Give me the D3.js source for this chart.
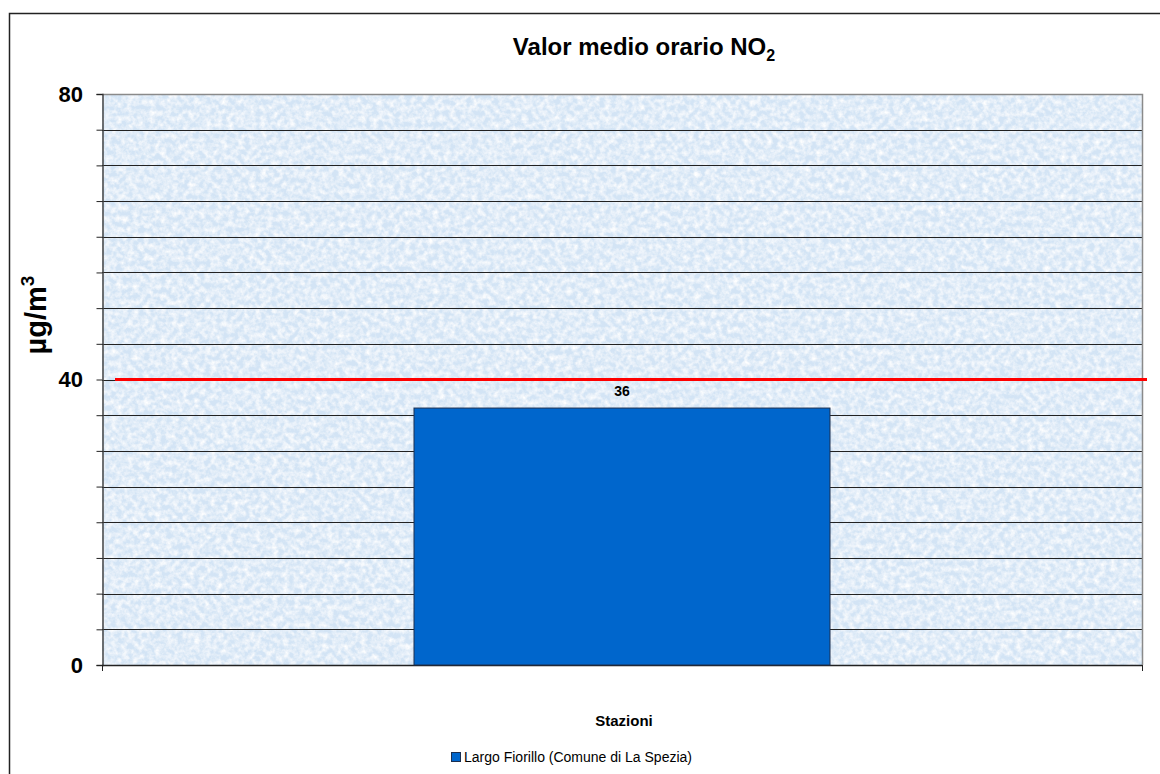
<!DOCTYPE html>
<html>
<head>
<meta charset="utf-8">
<script src="https://cdn.jsdelivr.net/npm/d3@7"></script>
<style>
  body { margin: 0; background: #fff; }
  text { font-family: Arial, "Liberation Sans", sans-serif; fill: #000; }
</style>
</head>
<body>
<div id="chart"></div>
<script>
// data
var stations = ["Largo Fiorillo (Comune di La Spezia)"];
var values = [36];
var limitValue = 40;
var yTickLabels = [0, 40, 80];

var width = 1160,
    height = 774;
var plot = {left: 102, right: 1142, top: 94, bottom: 665};

var svg = d3.select("#chart").append("svg")
    .attr("width", width)
    .attr("height", height);

var x = d3.scaleBand()
    .domain(stations)
    .range([plot.left, plot.right])
    .paddingInner(0)
    .paddingOuter(0.75);

var y = d3.scaleLinear()
    .domain([0, 80])
    .range([plot.bottom, plot.top]);

// texture for plot background
var defs = svg.append("defs");
var f = defs.append("filter").attr("id", "paper")
    .attr("x", 0).attr("y", 0).attr("width", 1).attr("height", 1);
f.append("feTurbulence")
    .attr("type", "fractalNoise")
    .attr("baseFrequency", 0.18)
    .attr("numOctaves", 3)
    .attr("seed", 7)
    .attr("result", "noise");
f.append("feColorMatrix")
    .attr("in", "noise")
    .attr("type", "matrix")
    .attr("values", "0 0 0 0 1  0 0 0 0 1  0 0 0 0 1  1.8 0 0 0 -0.6")
    .attr("result", "speck");
f.append("feComposite")
    .attr("in", "speck")
    .attr("in2", "SourceGraphic")
    .attr("operator", "over");

// outer border
svg.append("rect")
    .attr("x", 9.5).attr("y", 13.5)
    .attr("width", width + 50).attr("height", height + 50)
    .attr("fill", "none")
    .attr("stroke", "#222")
    .attr("stroke-width", 1.5);

svg.append("rect")
    .attr("x", plot.left).attr("y", plot.top)
    .attr("width", plot.right - plot.left)
    .attr("height", plot.bottom - plot.top)
    .attr("fill", "#d3e4f5")
    .attr("filter", "url(#paper)");

// gridlines every 5
var gridVals = d3.range(5, 80, 5);
svg.append("g").selectAll("line")
    .data(gridVals)
    .enter().append("line")
    .attr("x1", plot.left).attr("x2", plot.right)
    .attr("y1", function(d) { return Math.round(y(d)) + 0.5; })
    .attr("y2", function(d) { return Math.round(y(d)) + 0.5; })
    .attr("stroke", "#222")
    .attr("stroke-width", 1);

// plot frame top/right
svg.append("path")
    .attr("d", "M" + plot.left + "," + (plot.top + 0.5) + "H" + (plot.right + 0.5) + "V" + plot.bottom)
    .attr("fill", "none")
    .attr("stroke", "#8a8a8a")
    .attr("stroke-width", 1.5);

// y axis
var yAxis = svg.append("g")
    .attr("transform", "translate(" + (plot.left + 0.5) + ",0)")
    .call(d3.axisLeft(y).tickValues(d3.range(0, 85, 5)).tickSize(6).tickFormat(""));
yAxis.select(".domain").attr("stroke", "#444").attr("stroke-width", 1.5);
yAxis.selectAll(".tick line").attr("stroke", "#222");

svg.append("g").selectAll("text")
    .data(yTickLabels)
    .enter().append("text")
    .attr("x", 83)
    .attr("y", function(d) { return y(d); })
    .attr("dy", "0.36em")
    .attr("text-anchor", "end")
    .style("font-size", "22px")
    .style("font-weight", "bold")
    .text(function(d) { return d; });

// x axis
svg.append("line")
    .attr("x1", plot.left).attr("x2", plot.right)
    .attr("y1", plot.bottom + 0.5).attr("y2", plot.bottom + 0.5)
    .attr("stroke", "#222").attr("stroke-width", 1.5);
svg.append("g").selectAll("line")
    .data([plot.left, plot.right])
    .enter().append("line")
    .attr("x1", function(d) { return d + 0.5; })
    .attr("x2", function(d) { return d + 0.5; })
    .attr("y1", plot.bottom).attr("y2", plot.bottom + 6)
    .attr("stroke", "#222");

// bar
svg.append("g").selectAll("rect")
    .data(values)
    .enter().append("rect")
    .attr("x", function(d, i) { return x(stations[i]); })
    .attr("y", function(d) { return y(d); })
    .attr("width", x.bandwidth())
    .attr("height", function(d) { return y(0) - y(d); })
    .attr("fill", "#0066cc")
    .attr("stroke", "#1c2f4f")
    .attr("stroke-width", 1);

svg.append("g").selectAll("text")
    .data(values)
    .enter().append("text")
    .attr("x", function(d, i) { return x(stations[i]) + x.bandwidth() / 2; })
    .attr("y", function(d) { return y(d) - 12; })
    .attr("text-anchor", "middle")
    .style("font-size", "14px")
    .style("font-weight", "bold")
    .text(function(d) { return d; });

// limit line
svg.append("line")
    .attr("x1", 115).attr("x2", 1147)
    .attr("y1", y(limitValue)).attr("y2", y(limitValue))
    .attr("stroke", "#ff0000")
    .attr("stroke-width", 3);

// title
var title = svg.append("text")
    .attr("x", 644).attr("y", 55)
    .attr("text-anchor", "middle")
    .style("font-size", "24px")
    .style("font-weight", "bold");
title.append("tspan").text("Valor medio orario NO");
title.append("tspan").attr("dy", 6).style("font-size", "16px").text("2");

// y axis title
var ytitle = svg.append("text")
    .attr("transform", "translate(46,315) rotate(-90)")
    .attr("text-anchor", "middle")
    .style("font-size", "29px")
    .style("font-weight", "bold");
ytitle.append("tspan").text("µg/m");
ytitle.append("tspan").attr("dy", -12).style("font-size", "19px").text("3");

// x axis title
svg.append("text")
    .attr("x", 624).attr("y", 726)
    .attr("text-anchor", "middle")
    .style("font-size", "15px")
    .style("font-weight", "bold")
    .text("Stazioni");

// legend
var legend = svg.append("g");
legend.append("rect")
    .attr("x", 451.5).attr("y", 752.5)
    .attr("width", 9).attr("height", 9)
    .attr("fill", "#0066cc")
    .attr("stroke", "#1c2f4f");
legend.append("text")
    .attr("x", 464).attr("y", 762)
    .style("font-size", "14px")
    .text(stations[0]);
</script>
</body>
</html>
